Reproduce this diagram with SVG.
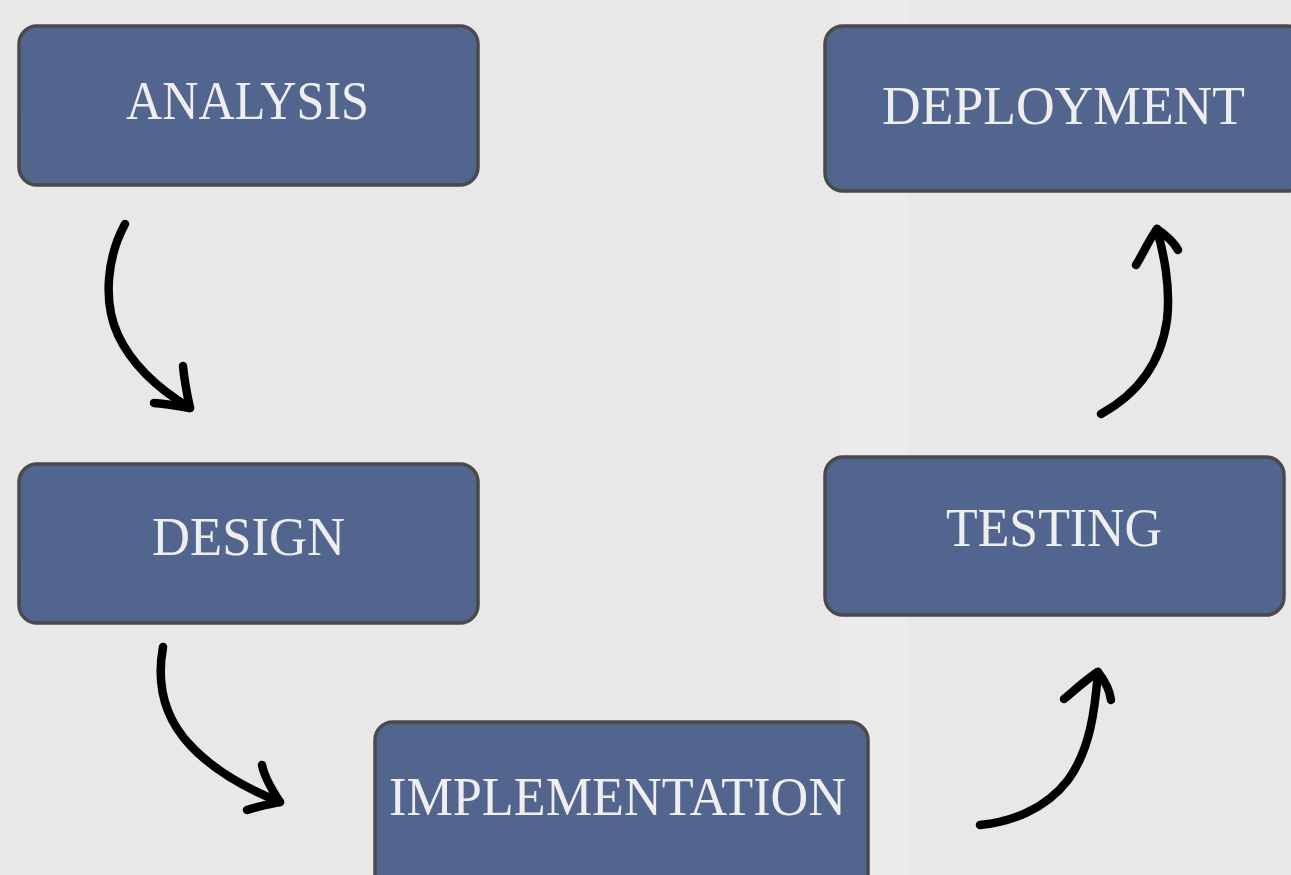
<svg xmlns="http://www.w3.org/2000/svg" width="1291" height="875" viewBox="0 0 1291 875">
<style>
.box{fill:#52658f;stroke:#4a4a4a;stroke-width:3.5}
.lbl{font-family:"Liberation Serif","DejaVu Serif",serif;font-size:54px;fill:#eeeeee;text-anchor:start}
.arr{fill:none;stroke:#000;stroke-width:8.5;stroke-linecap:round;stroke-linejoin:round}
</style>
<rect x="0" y="0" width="1291" height="875" fill="#e8e8e8"/>
<rect x="840" y="0" width="70" height="875" fill="#ebebeb"/>
<g id="analysis">
<rect class="box" x="19" y="26" width="459" height="159" rx="18"/>
<text class="lbl" x="126" y="119" textLength="243" lengthAdjust="spacingAndGlyphs">ANALYSIS</text>
</g>
<g id="design">
<rect class="box" x="19" y="464" width="459" height="159" rx="18"/>
<text class="lbl" x="152" y="555" textLength="193" lengthAdjust="spacingAndGlyphs">DESIGN</text>
</g>
<g id="implementation">
<rect class="box" x="375" y="722" width="493" height="170" rx="18"/>
<text class="lbl" x="389" y="815" textLength="457" lengthAdjust="spacingAndGlyphs">IMPLEMENTATION</text>
</g>
<g id="testing">
<rect class="box" x="825" y="457" width="459" height="158" rx="18"/>
<text class="lbl" x="946" y="546" textLength="216" lengthAdjust="spacingAndGlyphs">TESTING</text>
</g>
<g id="deployment">
<rect class="box" x="825" y="26" width="480" height="165" rx="18"/>
<text class="lbl" x="882" y="124" textLength="363" lengthAdjust="spacingAndGlyphs">DEPLOYMENT</text>
</g>
<g id="connectors">
<path class="arr" d="M125 224 C108 255 102 300 118 335 C133 367 160 390 190 408"/>
<path class="arr" d="M154 403 C170 404 182 407 190 408 C187 394 184 378 183 366"/>
<path class="arr" d="M163 647 C157 680 162 715 190 745 C215 772 250 790 280 802"/>
<path class="arr" d="M247 810 C259 806 270 804 280 802 C272 790 264 775 262 765"/>
<path class="arr" d="M980 825 C1010 822 1045 810 1068 780 C1090 750 1095 710 1098 672"/>
<path class="arr" d="M1064 699 C1076 689 1088 678 1098 672 C1105 681 1110 692 1111 700"/>
<path class="arr" d="M1101 414 C1130 398 1160 370 1167 320 C1171 285 1163 252 1157 229"/>
<path class="arr" d="M1136 265 C1143 254 1150 238 1157 229 C1167 236 1175 244 1178 250"/>
</g>
</svg>
